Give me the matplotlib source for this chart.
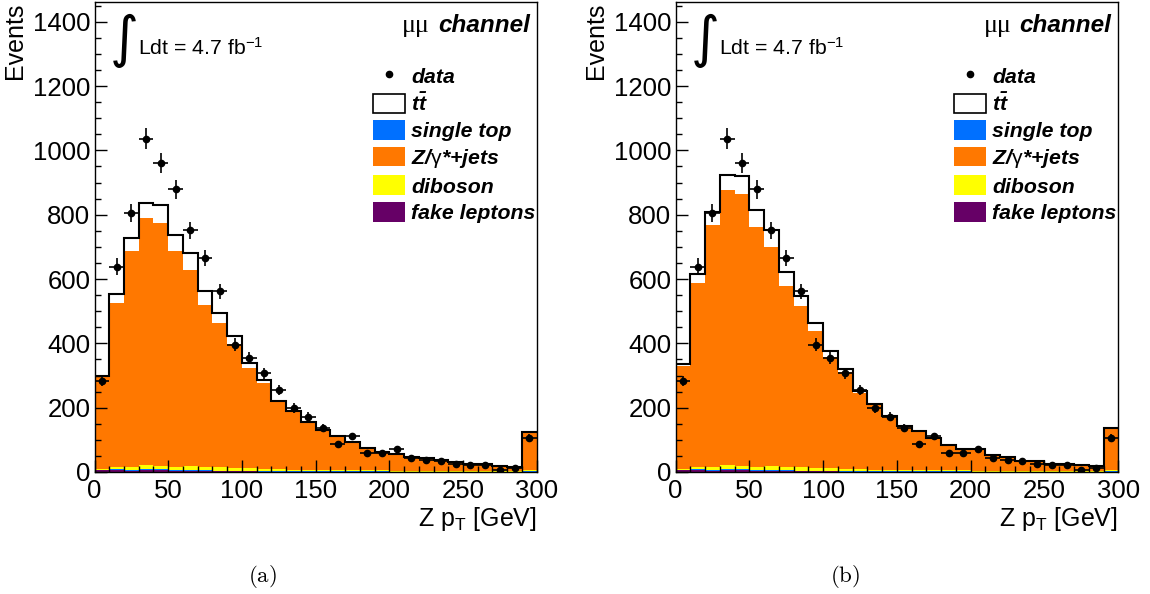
import numpy as np
import matplotlib
matplotlib.use("Agg")
import matplotlib.pyplot as plt
import matplotlib.ticker as tck
from matplotlib.patches import Patch
from matplotlib.lines import Line2D

plt.rcParams['font.family'] = ['Liberation Sans', 'DejaVu Sans']
plt.rcParams['mathtext.fontset'] = 'custom'
plt.rcParams['mathtext.rm'] = 'Liberation Sans'
plt.rcParams['mathtext.it'] = 'Liberation Sans:italic'
plt.rcParams['mathtext.bf'] = 'Liberation Sans:bold'
plt.rcParams['mathtext.bfit'] = 'Liberation Sans:bold:italic'

# Z pT bins, 10 GeV wide (last bin holds the overflow)
edges = np.arange(0, 310, 10)

data = [283, 639, 806, 1036, 960, 879, 751, 666, 562, 396,
        354, 307, 255, 199, 172, 138, 86, 112, 60, 60,
        71, 42, 36, 34, 26, 22, 22, 6, 12, 107]

ttbar = [5, 28, 40, 47, 56, 51, 52, 44, 32, 24,
         17, 9, 4, 3, 3, 2, 2, 2, 2, 1,
         1, 1, 1, 1, 1, 1, 1, 1, 1, 3]
single_top = [1, 2, 2, 3, 3, 3, 3, 2, 2, 2,
              2, 2, 1, 1, 1, 1, 1, 1, 1, 1,
              1, 1, 1, 0, 0, 0, 0, 0, 0, 1]
diboson = [4, 9, 9, 13, 12, 10, 12, 12, 10, 8,
           7, 7, 6, 5, 5, 4, 4, 3, 3, 3,
           3, 3, 2, 2, 2, 2, 2, 2, 2, 4]
fake = [5, 6, 4, 6, 5, 4, 3, 3, 2, 2,
        2, 1, 1, 1, 1, 1, 1, 1, 1, 1,
        0, 0, 0, 0, 0, 0, 0, 0, 0, 1]

# Z/gamma*+jets, panel (a) and panel (b)
zjets_a = [285, 508, 673, 767, 753, 669, 611, 503, 448, 386,
           312, 267, 209, 180, 144, 122, 104, 86, 69, 56,
           52, 42, 38, 33, 28, 23, 21, 16, 14, 114]
zjets_b = [320, 571, 754, 855, 843, 746, 683, 562, 501, 427,
           347, 300, 239, 200, 163, 135, 118, 99, 77, 65,
           66, 48, 43, 31, 30, 23, 23, 19, 16, 129]

c_stop = '#0070ff'
c_z = '#ff7800'
c_dib = '#ffff00'
c_fake = '#660066'

fig = plt.figure(figsize=(11.5, 5.94), dpi=100)
ax_a = fig.add_axes([0.0822, 0.2054, 0.3845, 0.7904])
ax_b = fig.add_axes([0.5874, 0.2054, 0.3850, 0.7904])


def draw_panel(ax, zjets, caption, cap_x):
    stack = [(fake, c_fake), (single_top, c_stop), (diboson, c_dib),
             (zjets, c_z), (ttbar, 'white')]
    low = np.zeros(len(data))
    for vals, col in stack:
        high = low + np.array(vals)
        ax.stairs(high, edges, baseline=low, fill=True, color=col, lw=0)
        low = high
    ax.stairs(low, edges, baseline=None, color='black', lw=1.5)

    centers = 0.5 * (edges[:-1] + edges[1:])
    ax.errorbar(centers, data, yerr=np.sqrt(data), xerr=5, fmt='o',
                color='black', ms=4.5, elinewidth=1.2, capsize=0, zorder=5)

    ax.set_xlim(0, 300)
    ax.set_ylim(0, 1460)
    ax.xaxis.set_major_locator(tck.MultipleLocator(50))
    ax.xaxis.set_minor_locator(tck.MultipleLocator(10))
    ax.yaxis.set_major_locator(tck.MultipleLocator(200))
    ax.yaxis.set_minor_locator(tck.MultipleLocator(50))
    ax.tick_params(which='both', direction='in', top=False, right=False,
                   labelsize=18.5, width=1)
    ax.tick_params(which='major', length=8.5)
    ax.tick_params(which='minor', length=4.5)
    ax.tick_params(axis='y', pad=3)
    ax.tick_params(axis='x', pad=5)
    for s in ax.spines.values():
        s.set_linewidth(1.0)

    ax.set_ylabel('Events', fontsize=18, loc='top')
    ax.yaxis.set_label_coords(-0.152, 1.0)
    ax.set_xlabel(r'Z p$_\mathrm{T}$ [GeV]', fontsize=18, loc='right')
    ax.xaxis.set_label_coords(1.0, -0.07)

    ax.text(0.068, 0.918, '\u222b', transform=ax.transAxes, fontsize=40,
            family='DejaVu Sans', va='center', ha='center')
    ax.text(0.098, 0.889, r'Ldt = 4.7 fb$^{-1}$', transform=ax.transAxes,
            fontsize=15.3, va='baseline', ha='left')

    t = ax.text(0.985, 0.937, 'channel', transform=ax.transAxes,
                fontsize=17.5, fontweight='bold', fontstyle='italic',
                ha='right', va='baseline')
    ax.annotate('\u03bc\u03bc', xy=(0, 0), xycoords=t, xytext=(-6, 0),
                textcoords='offset points', fontsize=18.5,
                family='Liberation Serif', ha='right', va='bottom')

    handles = [Line2D([], [], marker='o', ls='none', color='black', ms=4.5),
               Patch(facecolor='white', edgecolor='black', lw=1.2),
               Patch(facecolor=c_stop),
               Patch(facecolor=c_z),
               Patch(facecolor=c_dib),
               Patch(facecolor=c_fake)]
    labels = [r'data', r'$\mathbfit{t\bar{t}}$', 'single top',
              r'Z/$\mathrm{\gamma}$*+jets', 'diboson', 'fake leptons']
    ax.legend(handles, labels, loc='upper left', bbox_to_anchor=(0.629, 0.866),
              frameon=False, borderpad=0, borderaxespad=0,
              handlelength=1.5, handleheight=1.05, handletextpad=0.3,
              labelspacing=0.26,
              prop={'size': 15.3, 'weight': 'bold', 'style': 'italic'})

    fig.text(cap_x / 1150, 1 - 576 / 594, r'$\mathrm{(' + caption + ')}$',
             fontsize=16.5, math_fontfamily='cm', ha='center', va='center')


draw_panel(ax_a, zjets_a, 'a', 262)
draw_panel(ax_b, zjets_b, 'b', 845)

fig.savefig('out.png', dpi=100)
